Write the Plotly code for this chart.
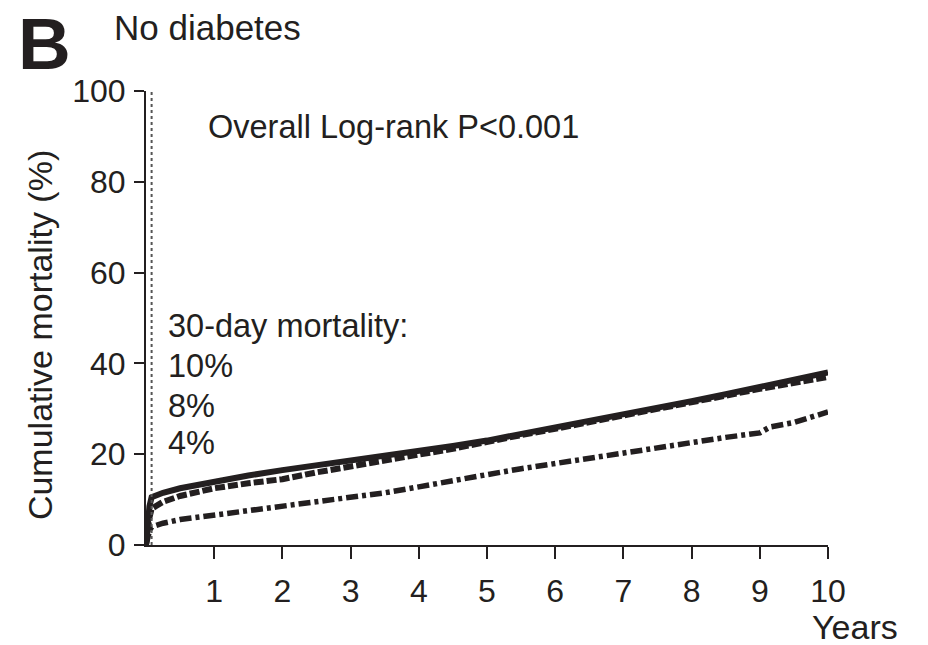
import plotly.graph_objects as go

# ---- data ----
years = [0, 0.02, 0.05, 0.082, 0.25, 0.5, 1, 1.5, 2, 2.5, 3, 3.5, 4, 4.5, 5,
         5.5, 6, 6.5, 7, 7.5, 8, 8.5, 9, 9.5, 10]
mort_top = [0, 6, 8.5, 10.5, 11.5, 12.5, 14, 15.3, 16.5, 17.5, 18.5, 19.6, 20.7,
            21.8, 23, 24.4, 25.8, 27.2, 28.6, 30, 31.7, 33.2, 34.8, 36.4, 38]
mort_mid = [0, 4, 6, 8, 9.5, 10.8, 12.5, 13.6, 14.5, 16, 17.2, 18.6, 19.9,
            21.2, 22.8, 24.2, 25.6, 27, 28.4, 29.8, 31.4, 32.9, 34.4, 35.8, 37]
years_low = [0, 0.02, 0.05, 0.082, 0.25, 0.5, 1, 1.5, 2, 2.5, 3, 3.5, 4, 4.5, 5,
             5.5, 6, 6.5, 7, 7.5, 8, 8.5, 9, 9.15, 9.5, 10]
mort_low = [0, 2, 3, 4, 4.8, 5.6, 6.6, 7.6, 8.5, 9.4, 10.3, 11.5, 12.8, 14, 15.5,
            16.8, 18, 19.2, 20.3, 21.3, 22.8, 23.7, 24.7, 26.0, 27.0, 29.3]

end_labels = ["38%", "37%", "29%"]
end_label_y = [42.5, 34.0, 25.8]
day30_labels = ["30-day mortality:", "10%", "8%", "4%"]
day30_label_y = [48.2, 39.4, 30.6, 22.5]
x_ticks = [1, 2, 3, 4, 5, 6, 7, 8, 9, 10]
y_ticks = [0, 20, 40, 60, 80, 100]
day30_year = 30 / 365

FONT = "Liberation Sans, Arial, Helvetica, sans-serif"
INK = "#231f20"

fig = go.Figure()
fig.add_trace(go.Scatter(x=years_low, y=mort_low, mode="lines",
                         line=dict(color=INK, width=5.5, dash="12px,4px,4px,4px")))
fig.add_trace(go.Scatter(x=years, y=mort_mid, mode="lines",
                         line=dict(color=INK, width=6, dash="10px,3px")))
fig.add_trace(go.Scatter(x=years, y=mort_top, mode="lines",
                         line=dict(color=INK, width=6)))

fig.add_shape(type="line", x0=day30_year, x1=day30_year, y0=0, y1=100,
              xref="x", yref="y", line=dict(color="#555555", width=2, dash="dot"))

ann = []
ann.append(dict(text="Overall Log-rank P<0.001", x=0.88, y=92, xref="x", yref="y",
                xanchor="left", yanchor="middle", showarrow=False,
                font=dict(size=32.5, color=INK, family=FONT)))
for t, yy in zip(day30_labels, day30_label_y):
    ann.append(dict(text=t, x=0.29, y=yy, xref="x", yref="y", xanchor="left",
                    yanchor="middle", showarrow=False,
                    font=dict(size=32.5, color=INK, family=FONT)))
for t, yy in zip(end_labels, end_label_y):
    ann.append(dict(text=t, x=10.38, y=yy, xref="x", yref="y", xanchor="left",
                    yanchor="middle", showarrow=False,
                    font=dict(size=32.5, color=INK, family=FONT)))
ann.append(dict(text="Years", x=1.106, y=-0.18, xref="paper", yref="paper",
                xanchor="right", yanchor="middle", showarrow=False,
                font=dict(size=34, color=INK, family=FONT)))
ann.append(dict(text="Cumulative mortality (%)", x=-0.155, y=0.463, xref="paper",
                yref="paper", xanchor="center", yanchor="middle", textangle=-90,
                showarrow=False, font=dict(size=34, color=INK, family=FONT)))
ann.append(dict(text="No diabetes", x=-0.05, y=1.14, xref="paper", yref="paper",
                xanchor="left", yanchor="middle", showarrow=False,
                font=dict(size=35, color=INK, family=FONT)))
ann.append(dict(text="<b>B</b>", x=-0.19, y=1.104, xref="paper", yref="paper",
                xanchor="left", yanchor="middle", showarrow=False,
                font=dict(size=73, color=INK, family=FONT)))

fig.update_layout(
    width=928, height=645,
    margin=dict(l=146, r=100, t=91, b=100),
    paper_bgcolor="white", plot_bgcolor="white",
    showlegend=False,
    annotations=ann,
    xaxis=dict(range=[0, 10], tickvals=x_ticks, ticks="outside", ticklen=12,
               tickwidth=2, tickcolor=INK, showline=True, linecolor=INK,
               linewidth=2, showgrid=False, zeroline=False,
               ticklabelstandoff=5,
               tickfont=dict(size=32, color=INK, family=FONT)),
    yaxis=dict(range=[0, 100], tickvals=y_ticks, ticks="outside", ticklen=10,
               tickwidth=2, tickcolor=INK, showline=True, linecolor=INK,
               linewidth=2, showgrid=False, zeroline=False,
               ticklabelstandoff=2,
               tickfont=dict(size=32, color=INK, family=FONT)),
)

fig.write_html("out.html")
